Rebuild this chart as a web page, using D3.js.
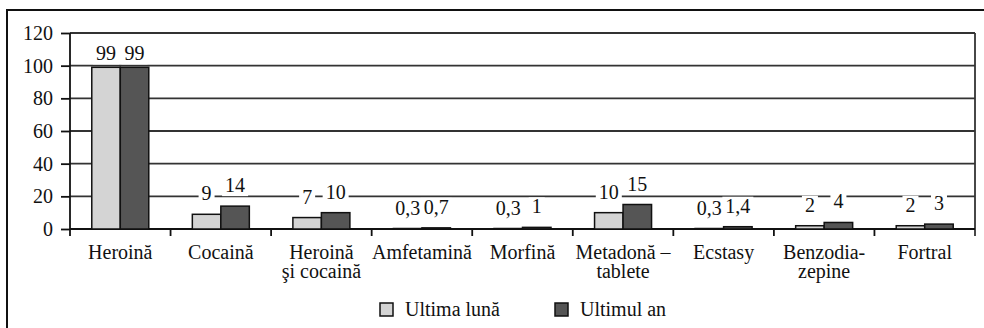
<!DOCTYPE html>
<html><head><meta charset="utf-8">
<script src="https://cdn.jsdelivr.net/npm/d3@7"></script>
<style>
html,body{margin:0;padding:0;background:#fff;}
svg{display:block;}
.serif{font-family:'Liberation Serif';}
</style></head>
<body>
<svg id="c" width="984" height="328"></svg>
<script>
const categories = [["Heroină"],["Cocaină"],["Heroină","şi cocaină"],["Amfetamină"],["Morfină"],["Metadonă –","tablete"],["Ecstasy"],["Benzodia-","zepine"],["Fortral"]];
const seriesNames = ["Ultima lună","Ultimul an"];
const ultimaLuna = [99, 9, 7, 0.3, 0.3, 10, 0.3, 2, 2];
const ultimulAn = [99, 14, 10, 0.7, 1, 15, 1.4, 4, 3];
const yTicks = [0, 20, 40, 60, 80, 100, 120];
const colors = ["#d4d4d4", "#555555"];

const svg = d3.select("#c");
const m = {l:70, r:975, t:33, b:229};

// outer frame
svg.append("rect").attr("x",7).attr("y",10).attr("width",990).attr("height",330)
  .attr("fill","none").attr("stroke","#111").attr("stroke-width",2);

const idx = categories.map((d,i)=>i);
const x = d3.scaleBand().domain(idx).range([m.l, m.r]);
const y = d3.scaleLinear().domain([0,120]).range([m.b, m.t]);
const xs = d3.scaleBand().domain([0,1]).range([0, 57]);

// gridlines
svg.append("g").selectAll("line").data(yTicks.filter(d=>d>0)).join("line")
  .attr("x1",m.l).attr("x2",m.r).attr("y1",d=>y(d)).attr("y2",d=>y(d))
  .attr("stroke","#333").attr("stroke-width",1.8);
// right border
svg.append("line").attr("x1",m.r).attr("x2",m.r).attr("y1",y(120)).attr("y2",m.b+7)
  .attr("stroke","#333").attr("stroke-width",1.8);

// y axis
const ya = svg.append("g").attr("transform",`translate(${m.l},0)`)
  .call(d3.axisLeft(y).tickValues(yTicks).tickSize(9).tickPadding(8).tickFormat(d3.format("d")));
ya.attr("font-family", null).attr("font-size", null);
ya.select(".domain").remove();
ya.append("line").attr("x1",0).attr("x2",0).attr("y1",y(120)).attr("y2",m.b+7).attr("stroke","#111").attr("stroke-width",1.8);
ya.selectAll(".tick line").attr("stroke","#111").attr("stroke-width",1.8);
ya.selectAll(".tick text").attr("class","serif").style("font-size","20px").attr("fill","#111");

// x axis line & ticks at band boundaries
svg.append("line").attr("x1",m.l).attr("x2",m.r).attr("y1",m.b).attr("y2",m.b).attr("stroke","#111").attr("stroke-width",1.8);
svg.append("g").selectAll("line").data(idx.slice(1)).join("line")
  .attr("x1",d=>x(d)).attr("x2",d=>x(d)).attr("y1",m.b).attr("y2",m.b+7)
  .attr("stroke","#111").attr("stroke-width",1.8);

// bars
const fmt = v => String(v).replace(".", ",");
const data = [];
idx.forEach(i => {
  [ultimaLuna[i], ultimulAn[i]].forEach((v,s)=> data.push({i, s, v}));
});
const off = (x.bandwidth()-57)/2;
svg.append("g").selectAll("rect").data(data).join("rect")
  .attr("x", d=>x(d.i)+off+xs(d.s))
  .attr("y", d=>y(d.v))
  .attr("width", xs.bandwidth())
  .attr("height", d=>m.b - y(d.v))
  .attr("fill", d=>colors[d.s])
  .attr("stroke","#111").attr("stroke-width",1.5);

// value labels with white backgrounds
const lg = svg.append("g");
data.forEach(d=>{
  const cx = x(d.i)+off+xs(d.s)+xs.bandwidth()/2;
  const by = Math.max(y(d.v) - 14, y(d.v) - 7 - (y(d.v) < 100 ? 0 : 7));
  const g = lg.append("g");
  const t = g.append("text").attr("class","serif").attr("x",cx).attr("y",by).attr("text-anchor","middle")
    .style("font-size","20px").attr("fill","#111").text(fmt(d.v));
  const bb = t.node().getBBox();
  g.insert("rect","text").attr("x",bb.x-3).attr("y",bb.y+2).attr("width",bb.width+6).attr("height",bb.height-2).attr("fill","#fff");
});

// category labels
const cl = svg.append("g");
categories.forEach((lines,i)=>{
  lines.forEach((ln,k)=> cl.append("text").attr("class","serif").attr("x", x(i)+x.bandwidth()/2).attr("y",259 + k*19)
    .attr("text-anchor","middle").style("font-size","20px").attr("fill","#111").text(ln));
});

// legend
const legX = [380, 555];
seriesNames.forEach((n,s)=>{
  svg.append("rect").attr("x",legX[s]).attr("y",303).attr("width",13).attr("height",13)
    .attr("fill",colors[s]).attr("stroke","#111").attr("stroke-width",1.5);
  svg.append("text").attr("class","serif").attr("x",legX[s]+25).attr("y",316).style("font-size","20px").attr("fill","#111").text(n);
});
</script>
</body></html>
